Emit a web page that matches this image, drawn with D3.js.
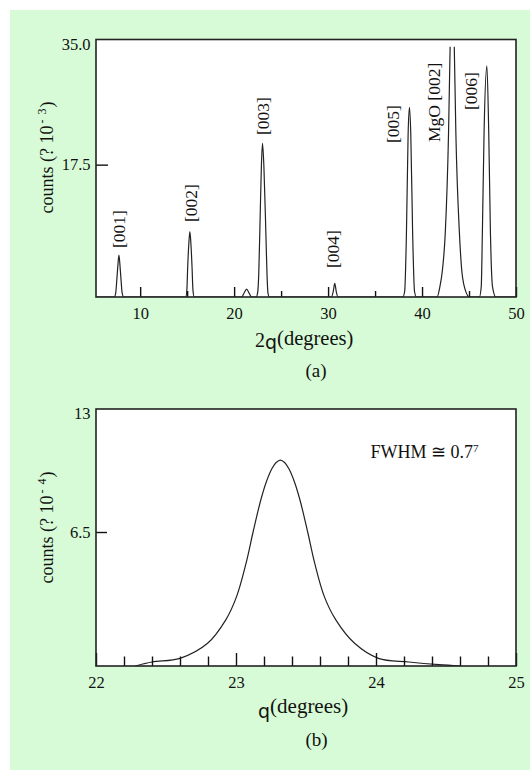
<!DOCTYPE html>
<html>
<head>
<meta charset="utf-8">
<script src="https://cdn.jsdelivr.net/npm/d3@7/dist/d3.min.js"></script>
<style>
body { margin: 0; background: #fff; }
text { font-family: "Liberation Serif", "Times New Roman", serif; fill: #111; }
</style>
</head>
<body>
<svg id="fig" width="530" height="770"></svg>
<script>
// (a) 2theta scan, counts x 10^-3
var scanTwoTheta = [5.3,
    7.25, 7.4, 7.52, 7.64, 7.74, 7.84, 7.96, 8.08, 8.25,
    14.85, 14.97, 15.06, 15.18, 15.29, 15.4, 15.52, 15.62, 15.75,
    20.8, 21.05, 21.33, 21.6, 21.87,
    22.35, 22.5, 22.62, 22.73, 22.9, 23.02, 23.17, 23.38, 23.5, 23.6, 23.75,
    30.35, 30.55, 30.71, 30.87, 31.05,
    37.95, 38.15, 38.34, 38.52, 38.66, 38.8, 39.0, 39.2, 39.4,
    41.6, 41.9, 42.2, 42.47, 42.82, 42.99, 43.2, 43.43, 43.6, 43.98, 44.2, 44.5, 45.05,
    46.1, 46.3, 46.42, 46.6, 46.9, 47.1, 47.28, 47.5, 47.85,
    50];
var scanCounts = [-1.8,
    -1.8, -1.2, 0.8, 3.0, 4.32, 3.0, 0.8, -1.2, -1.8,
    -1.8, -0.8, 2.6, 6.0, 7.72, 6.0, 2.6, -0.8, -1.8,
    -1.8, -1.25, -0.64, -1.25, -1.8,
    -1.8, -1.2, 1.5, 7.48, 17.2, 20.61, 17.2, 7.48, 1.5, -1.2, -1.8,
    -1.8, -1.0, 0.2, -1.0, -1.8,
    -1.8, -1.0, 7.48, 22.07, 25.86, 22.07, 7.48, -1.0, -1.8,
    -1.8, -0.3, 2.5, 7.48, 22.07, 34.7, 45, 34.7, 22.07, 7.48, 2.5, -0.3, -1.8,
    -1.8, -0.3, 7.48, 22.07, 31.89, 22.07, 7.48, -0.3, -1.8,
    -1.8];
var scanCap = 34.7; // MgO peak is cut off here
var peakNames = ["[001]", "[002]", "[003]", "[004]", "[005]", "MgO [002]", "[006]"];
var peakLabelAt = [7.74, 15.37, 23.03, 30.5, 36.87, 41.3, 45.2];
var peakLabelFrom = [5.35, 9.13, 21.82, 2.43, 20.66, 20.8, 25.47];
var scanTicks = [10, 20, 30, 40, 50];
var scanMinorTicks = [15, 25, 35, 45];
var scanCountTicks = [17.5, 35.0];

// (b) rocking curve, counts x 10^-4
var rockTheta = [22.28, 22.4, 22.6, 22.797, 22.927, 23.004, 23.072, 23.122, 23.177, 23.217, 23.257, 23.287,
    23.317, 23.347, 23.377, 23.417, 23.457, 23.512, 23.562, 23.631, 23.713, 23.847, 24.017, 24.234, 24.451, 24.6];
var rockCounts = [-0.82, -0.6, -0.4, 0.42, 1.7, 2.97, 4.8, 6.5, 8.25, 9.25, 9.97, 10.3,
    10.43, 10.3, 9.97, 9.25, 8.25, 6.5, 4.8, 2.97, 1.7, 0.42, -0.4, -0.6, -0.75, -0.82];
var rockTicks = [22, 23, 24, 25];
var rockMinorTicks = [22.2, 22.4, 22.6, 22.8, 23.2, 23.4, 23.6, 23.8, 24.2, 24.4, 24.6, 24.8];
var rockCountTicks = [6.5, 13];

var svg = d3.select("#fig");
var serif = '"Liberation Serif", "Times New Roman", serif';

svg.append("rect").attr("x", 10).attr("y", 10).attr("width", 520).attr("height", 760)
    .attr("fill", "#d7fbd6");

function zip(xs, ys) {
    return xs.map(function (x, i) { return [x, ys[i]]; });
}

function panel(id, x, y, opt) {
    var x0 = x.range()[0], x1 = x.range()[1];
    var yb = y.range()[0], yt = y.range()[1];
    var g = svg.append("g");

    g.append("rect").attr("x", x0).attr("y", yt).attr("width", x1 - x0).attr("height", yb - yt)
        .attr("fill", "#fff");

    // curve, clipped to the frame
    svg.append("clipPath").attr("id", id)
        .append("rect").attr("x", x0).attr("y", opt.clipTop).attr("width", x1 - x0)
        .attr("height", yb - opt.clipTop);
    var line = d3.line()
        .x(function (d) { return x(d[0]); })
        .y(function (d) { return y(d[1]); })
        .curve(opt.curve);
    g.append("path").datum(opt.data)
        .attr("clip-path", "url(#" + id + ")")
        .attr("d", line)
        .attr("fill", "none").attr("stroke", "#222").attr("stroke-width", 1.2);

    // bottom axis, ticks pointing inward
    var gx = g.append("g").attr("transform", "translate(0," + yb + ")")
        .call(d3.axisBottom(x).tickValues(opt.xTicks).tickSize(-opt.majorLen)
            .tickPadding(10).tickFormat(d3.format("d")));
    var gm = g.append("g").attr("transform", "translate(0," + yb + ")")
        .call(d3.axisBottom(x).tickValues(opt.xMinor).tickSize(-opt.minorLen).tickFormat(""));
    var gy = g.append("g").attr("transform", "translate(" + x0 + ",0)")
        .call(d3.axisLeft(y).tickValues(opt.yTicks).tickSize(-opt.yLen)
            .tickPadding(5.5).tickFormat(opt.yFormat));
    [gx, gm, gy].forEach(function (a) {
        a.select(".domain").remove();
        a.attr("font-family", serif).attr("font-size", 16.5).attr("color", "#111");
        a.selectAll("line").attr("stroke-width", 1.4);
    });
    // no tick mark under the top label
    gy.selectAll(".tick").filter(function (d) { return d === opt.yTicks[opt.yTicks.length - 1]; })
        .select("line").remove();

    g.append("rect").attr("x", x0).attr("y", yt).attr("width", x1 - x0).attr("height", yb - yt)
        .attr("fill", "none").attr("stroke", "#222").attr("stroke-width", 1.6);

    // y title, read bottom to top
    var yl = g.append("text")
        .attr("transform", "translate(47," + opt.yTitleAt + ") rotate(-90)")
        .attr("text-anchor", "middle").attr("dy", "0.35em").attr("font-size", 18);
    yl.append("tspan").text("counts (? 10");
    yl.append("tspan").attr("font-size", 12).attr("dx", 2).attr("dy", -7).text("-");
    yl.append("tspan").attr("font-size", 12).attr("dx", 5).text(opt.yExp);
    yl.append("tspan").attr("dx", 1).attr("dy", 7).text(")");
    return g;
}

// ---- (a)
var xA = d3.scaleLinear().domain([5.3, 50]).range([96, 516]);
var yA = d3.scaleLinear().domain([-1.8, 35.75]).range([297, 39.5]);
var ga = panel("clipA", xA, yA, {
    data: zip(scanTwoTheta, scanCounts),
    curve: d3.curveMonotoneX,
    clipTop: yA(scanCap),
    xTicks: scanTicks, xMinor: scanMinorTicks, majorLen: 10, minorLen: 6,
    yTicks: scanCountTicks, yLen: 12, yFormat: d3.format(".1f"),
    yTitleAt: 157.5, yExp: "3"
});

ga.selectAll(".peak").data(peakNames).enter().append("text")
    .attr("class", "peak")
    .attr("transform", function (d, i) {
        return "translate(" + xA(peakLabelAt[i]) + "," + yA(peakLabelFrom[i]) + ") rotate(-90)";
    })
    .attr("dy", "0.35em").attr("font-size", 17.5)
    .text(function (d) { return d; });

var ta = ga.append("text").attr("x", 255).attr("y", 346.7);
ta.append("tspan").attr("font-size", 20).text("2");
ta.append("tspan").attr("font-size", 19).style("font-family", '"DejaVu Sans", sans-serif')
    .attr("dy", 1.8).text("q");
ta.append("tspan").attr("font-size", 20.5).attr("dy", -3.8).text("(degrees)");
ga.append("text").attr("x", 316).attr("y", 376.5).attr("text-anchor", "middle")
    .attr("font-size", 19).text("(a)");

// ---- (b)
var xB = d3.scaleLinear().domain([22, 25]).range([96, 516]);
var yB = d3.scaleLinear().domain([-0.82, 13.22]).range([666, 409]);
var gb = panel("clipB", xB, yB, {
    data: zip(rockTheta, rockCounts),
    curve: d3.curveCatmullRom.alpha(0.5),
    clipTop: 409,
    xTicks: rockTicks, xMinor: rockMinorTicks, majorLen: 13, minorLen: 9.5,
    yTicks: rockCountTicks, yLen: 11, yFormat: d3.format("~g"),
    yTitleAt: 527.5, yExp: "4"
});

var tb = gb.append("text").attr("x", 258).attr("y", 718);
tb.append("tspan").attr("font-size", 19).style("font-family", '"DejaVu Sans", sans-serif').text("q");
tb.append("tspan").attr("font-size", 21).attr("dy", -5).text("(degrees)");
gb.append("text").attr("x", 316.5).attr("y", 746).attr("text-anchor", "middle")
    .attr("font-size", 19).text("(b)");

var fw = gb.append("text").attr("x", 370.5).attr("y", 458.3).attr("font-size", 18);
fw.append("tspan").text("FWHM \u2245 0.7");
fw.append("tspan").attr("font-size", 11).attr("dy", -6).text("7");
</script>
</body>
</html>
